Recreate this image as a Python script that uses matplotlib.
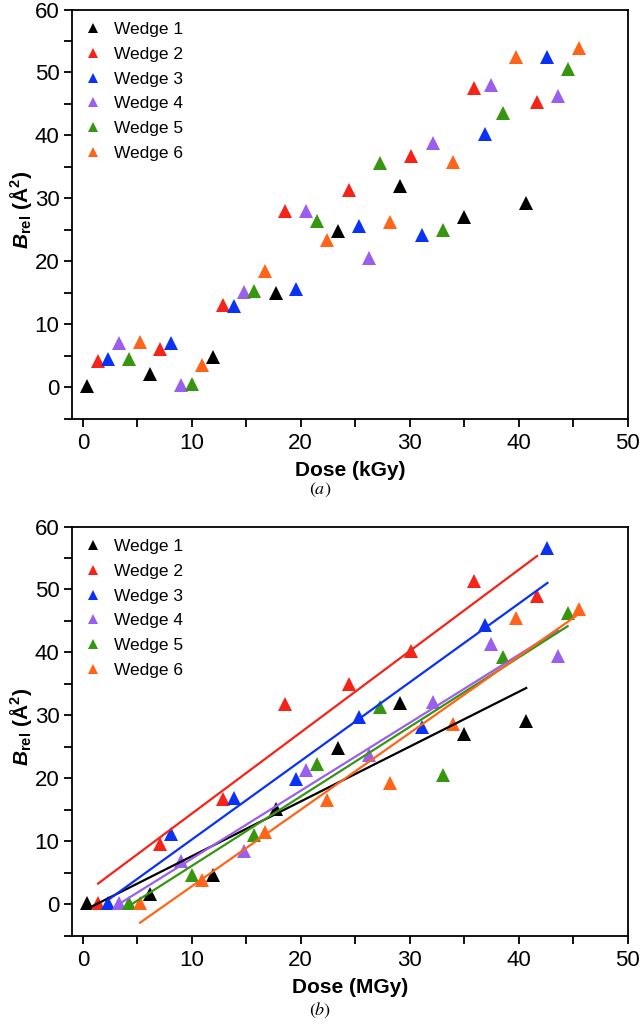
import numpy as np
import matplotlib
matplotlib.use("Agg")
import matplotlib.pyplot as plt
from matplotlib.ticker import MultipleLocator

plt.rcParams['font.family'] = ['Liberation Sans', 'DejaVu Sans']
plt.rcParams['mathtext.fontset'] = 'custom'
plt.rcParams['mathtext.rm'] = 'Liberation Sans'
plt.rcParams['mathtext.bf'] = 'Liberation Sans:bold'
plt.rcParams['mathtext.it'] = 'Liberation Sans:italic'
try:
    plt.rcParams['mathtext.bfit'] = 'Liberation Sans:italic:bold'
except KeyError:
    pass

labels = ["Wedge 1", "Wedge 2", "Wedge 3", "Wedge 4", "Wedge 5", "Wedge 6"]
colors = ["#000000", "#f52318", "#0a32f5", "#9b5ff0", "#36960f", "#ff6419"]

# Dose per wedge (same positions in both panels)
dose_w1 = [0.4, 6.15, 11.9, 17.7, 23.45, 29.15, 34.95, 40.7]
dose_w2 = [1.4, 7.1, 12.85, 18.6, 24.4, 30.1, 35.9, 41.7]
dose_w3 = [2.35, 8.1, 13.85, 19.55, 25.35, 31.1, 36.9, 42.65]
dose_w4 = [3.3, 9.05, 14.75, 20.5, 26.3, 32.1, 37.5, 43.6]
dose_w5 = [4.25, 10.0, 15.75, 21.45, 27.25, 33.05, 38.6, 44.5]
dose_w6 = [5.25, 10.95, 16.7, 22.45, 28.2, 34.0, 39.75, 45.5]

# Panel (a) B_rel values
ba_w1 = [0.2, 2.0, 4.7, 15.0, 24.8, 32.0, 27.1, 29.2]
ba_w2 = [4.1, 6.0, 13.0, 28.0, 31.3, 36.8, 47.6, 45.3]
ba_w3 = [4.5, 7.0, 12.9, 15.6, 25.6, 24.1, 40.2, 52.4]
ba_w4 = [7.0, 0.4, 15.1, 28.0, 20.5, 38.8, 48.0, 46.2]
ba_w5 = [4.5, 0.5, 15.2, 26.4, 35.6, 25.0, 43.5, 50.5]
ba_w6 = [7.2, 3.5, 18.5, 23.4, 26.3, 35.7, 52.4, 53.9]

# Panel (b) B_rel values
bb_w1 = [0.2, 1.7, 4.6, 15.1, 24.8, 31.9, 27.1, 29.1]
bb_w2 = [0.2, 9.6, 16.7, 31.8, 35.0, 40.3, 51.4, 49.0]
bb_w3 = [0.2, 11.2, 16.9, 19.9, 29.7, 28.1, 44.3, 56.6]
bb_w4 = [0.2, 6.9, 8.4, 21.4, 23.7, 32.05, 41.35, 39.5]
bb_w5 = [0.2, 4.7, 11.0, 22.3, 31.3, 20.5, 39.2, 46.3]
bb_w6 = [0.2, 3.9, 11.5, 16.6, 19.2, 28.6, 45.4, 46.9]

doses = [dose_w1, dose_w2, dose_w3, dose_w4, dose_w5, dose_w6]
panel_a = [ba_w1, ba_w2, ba_w3, ba_w4, ba_w5, ba_w6]
panel_b = [bb_w1, bb_w2, bb_w3, bb_w4, bb_w5, bb_w6]

xticks = [0, 10, 20, 30, 40, 50]
yticks = [0, 10, 20, 30, 40, 50, 60]

fig = plt.figure(figsize=(6.4, 10.25), dpi=100)
ax_a = fig.add_axes([0.1125, 0.5917, 0.868, 0.399])
ax_b = fig.add_axes([0.1125, 0.0871, 0.868, 0.3992])

tick_family = ['Liberation Sans Narrow', 'Liberation Sans']
ylab = r'$\mathbfit{B}_{\mathbf{rel}}$ $\mathbf{(\AA^{2})}$'

def style(ax, xlabel):
    ax.set_xlim(-1, 50)
    ax.set_ylim(-5, 60)
    ax.set_xticks(xticks)
    ax.set_yticks(yticks)
    ax.xaxis.set_minor_locator(MultipleLocator(5))
    ax.yaxis.set_minor_locator(MultipleLocator(5))
    ax.tick_params(which='both', direction='out', length=6, width=1.3,
                   top=False, right=False)
    ax.tick_params(axis='x', pad=4.5)
    ax.tick_params(axis='y', pad=3)
    for lab in ax.get_xticklabels() + ax.get_yticklabels():
        lab.set_fontfamily(tick_family)
        lab.set_fontsize(16)
    for sp in ax.spines.values():
        sp.set_linewidth(1.3)
    ax.set_xlabel(xlabel, fontsize=15, fontweight='bold', labelpad=5)
    ax.set_ylabel(ylab, fontsize=15, fontweight='bold')
    ax.yaxis.set_label_coords(-0.068, 0.51)
    ax.legend(loc='upper left', frameon=False, fontsize=12.5,
              markerscale=0.75, handlelength=1.0, handletextpad=0.7,
              labelspacing=0.56, borderaxespad=0.3, borderpad=0.4)

for d, y, c, l in zip(doses, panel_a, colors, labels):
    ax_a.plot(d, y, linestyle='none', marker='^', ms=10, mew=0,
              color=c, label=l, zorder=3)
style(ax_a, 'Dose (kGy)')

for d, y, c, l in zip(doses, panel_b, colors, labels):
    ax_b.plot(d, y, linestyle='none', marker='^', ms=10, mew=0,
              color=c, label=l, zorder=3)
    k, b0 = np.polyfit(d, y, 1)
    xs = np.array([d[0], d[-1]])
    ax_b.plot(xs, k * xs + b0, color=c, lw=1.6, zorder=4)
style(ax_b, 'Dose (MGy)')

fig.text(0.5, 1 - 490 / 1025, r'$(\mathit{a})$', ha='center', va='center',
         fontsize=13, math_fontfamily='stix')
fig.text(0.5, 1 - 1010 / 1025, r'$(\mathit{b})$', ha='center', va='center',
         fontsize=13, math_fontfamily='stix')

fig.savefig('out.png', dpi=100)
